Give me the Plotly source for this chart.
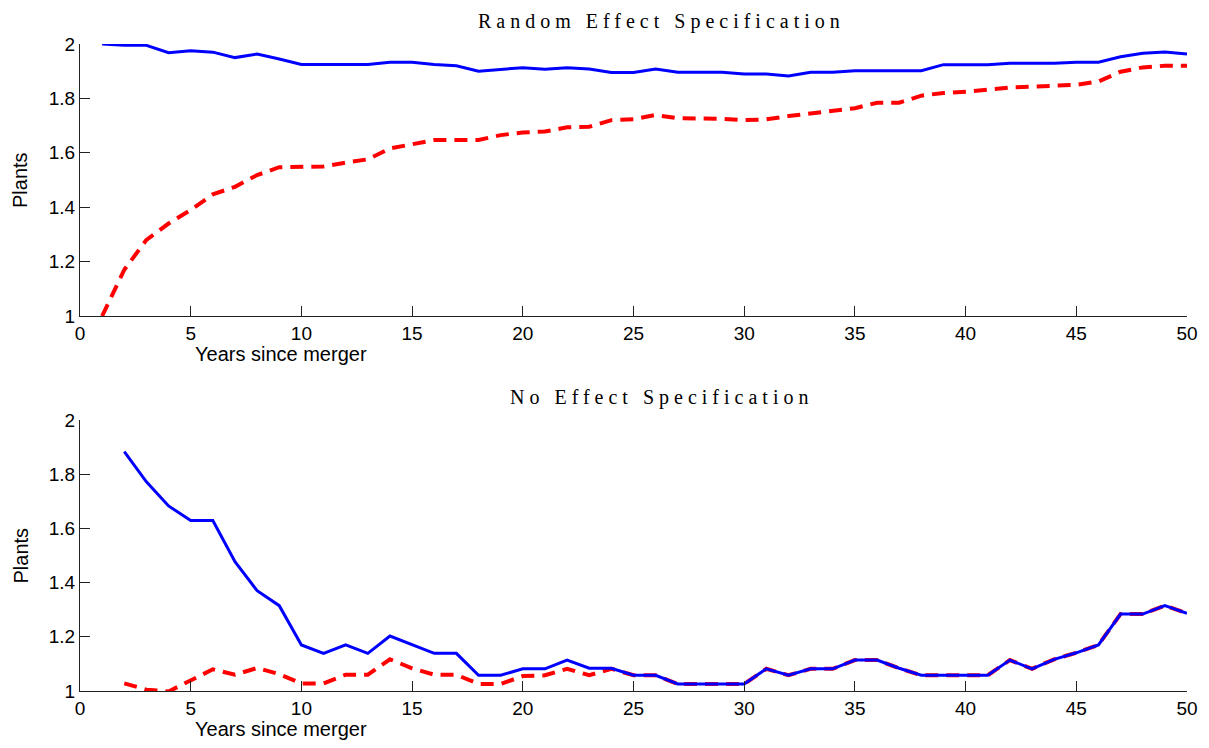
import plotly.graph_objects as go

years = list(range(1, 51))
re_blue = [2.0, 1.995, 1.995, 1.968, 1.975, 1.97, 1.95, 1.963, 1.945, 1.925,
           1.925, 1.925, 1.925, 1.933, 1.933, 1.925, 1.92, 1.90, 1.907, 1.913,
           1.907, 1.913, 1.908, 1.895, 1.895, 1.908, 1.896, 1.896, 1.896, 1.89,
           1.89, 1.882, 1.896, 1.896, 1.902, 1.902, 1.902, 1.902, 1.924, 1.924,
           1.924, 1.929, 1.929, 1.929, 1.933, 1.933, 1.953, 1.966, 1.971, 1.963]
re_red = [1.0, 1.17, 1.28, 1.34, 1.39, 1.447, 1.475, 1.518, 1.547, 1.547,
          1.55, 1.564, 1.576, 1.616, 1.631, 1.647, 1.647, 1.647, 1.665, 1.675,
          1.678, 1.694, 1.696, 1.72, 1.723, 1.739, 1.727, 1.727, 1.725, 1.72,
          1.723, 1.735, 1.745, 1.754, 1.764, 1.784, 1.784, 1.81, 1.82, 1.824,
          1.833, 1.84, 1.843, 1.846, 1.85, 1.862, 1.898, 1.914, 1.92, 1.92]

years2 = list(range(2, 51))
ne_blue = [1.883, 1.772, 1.683, 1.629, 1.629, 1.477, 1.37, 1.315, 1.17,
           1.139, 1.17, 1.139, 1.203, 1.172, 1.139, 1.139, 1.058, 1.058, 1.082,
           1.082, 1.114, 1.084, 1.084, 1.058, 1.058, 1.026, 1.026, 1.026, 1.026,
           1.082, 1.058, 1.082, 1.082, 1.114, 1.114, 1.084, 1.058, 1.058, 1.058,
           1.058, 1.114, 1.082, 1.117, 1.141, 1.17, 1.284, 1.284, 1.315, 1.287]
ne_red = [1.028, 1.005, 0.998, 1.04, 1.08, 1.06, 1.085, 1.062, 1.028,
          1.028, 1.06, 1.06, 1.117, 1.084, 1.06, 1.06, 1.026, 1.026, 1.055,
          1.058, 1.082, 1.058, 1.082, 1.058, 1.058, 1.026, 1.026, 1.026, 1.026,
          1.082, 1.058, 1.082, 1.082, 1.114, 1.114, 1.084, 1.058, 1.058, 1.058,
          1.058, 1.114, 1.082, 1.117, 1.141, 1.17, 1.284, 1.284, 1.315, 1.287]

x_ticks = [0, 5, 10, 15, 20, 25, 30, 35, 40, 45, 50]
y_ticks = [1, 1.2, 1.4, 1.6, 1.8, 2]
y_tick_labels = ["1", "1.2", "1.4", "1.6", "1.8", "2"]

W, H = 1209, 748
fig = go.Figure()

red_line = dict(color="#ff0000", width=4, dash="13px,8px")
blue_line = dict(color="#0000ff", width=3)

fig.add_trace(go.Scatter(x=years, y=re_red, mode="lines", line=red_line, xaxis="x", yaxis="y"))
fig.add_trace(go.Scatter(x=years, y=re_blue, mode="lines", line=blue_line, xaxis="x", yaxis="y"))
fig.add_trace(go.Scatter(x=years2, y=ne_red, mode="lines", line=red_line, xaxis="x2", yaxis="y2"))
fig.add_trace(go.Scatter(x=years2, y=ne_blue, mode="lines", line=blue_line, xaxis="x2", yaxis="y2"))

xdom = [80 / W, 1187 / W]
ydom1 = [1 - 316 / H, 1 - 44 / H]
ydom2 = [1 - 691 / H, 1 - 420 / H]

tickfont = dict(family="Liberation Sans, Arial, sans-serif", size=19, color="black")
xcommon = dict(range=[0, 50], tickvals=x_ticks, ticks="inside", ticklen=10, tickcolor="#222",
               showline=True, linecolor="#222", linewidth=1, showgrid=False, zeroline=False,
               tickfont=tickfont, domain=xdom, fixedrange=True, automargin=False)
ycommon = dict(range=[1, 2], tickvals=y_ticks, ticktext=y_tick_labels, ticks="inside", ticklen=10,
               tickcolor="#222", showline=True, linecolor="#222", linewidth=1, showgrid=False,
               zeroline=False, tickfont=tickfont, fixedrange=True, automargin=False)

fig.update_layout(
    template="none",
    width=W, height=H,
    margin=dict(l=0, r=0, t=0, b=0, pad=0),
    paper_bgcolor="white", plot_bgcolor="white",
    showlegend=False,
    xaxis=dict(**xcommon, anchor="y"),
    yaxis=dict(**ycommon, domain=ydom1, anchor="x"),
    xaxis2=dict(**xcommon, anchor="y2"),
    yaxis2=dict(**ycommon, domain=ydom2, anchor="x2"),
)

titlefont = dict(family="Liberation Serif, DejaVu Serif, serif", size=20, color="black")
labfont = dict(family="Liberation Sans, Arial, sans-serif", size=20, color="black")
ann = []
for title, ytop in [("Random Effect Specification", 44), ("No Effect Specification", 420)]:
    ann.append(dict(text='<span style="letter-spacing:5px">' + title + '</span>',
                    x=662 / W, y=1 - (ytop - 23) / H, xref="paper", yref="paper",
                    showarrow=False, font=titlefont, xanchor="center", yanchor="middle"))
for ybot, ytop in [(316, 44), (691, 420)]:
    ann.append(dict(text="Plants", x=20 / W, y=1 - ((ybot + ytop) / 2) / H, xref="paper", yref="paper",
                    showarrow=False, font=labfont, textangle=-90, xanchor="center", yanchor="middle"))
    ann.append(dict(text="Years since merger", x=281 / W, y=1 - (ybot + 38) / H, xref="paper",
                    yref="paper", showarrow=False, font=labfont, xanchor="center", yanchor="middle"))
fig.update_layout(annotations=ann)

fig.write_html("out.html", post_script="document.body.style.margin='0';document.body.style.overflow='hidden';")
